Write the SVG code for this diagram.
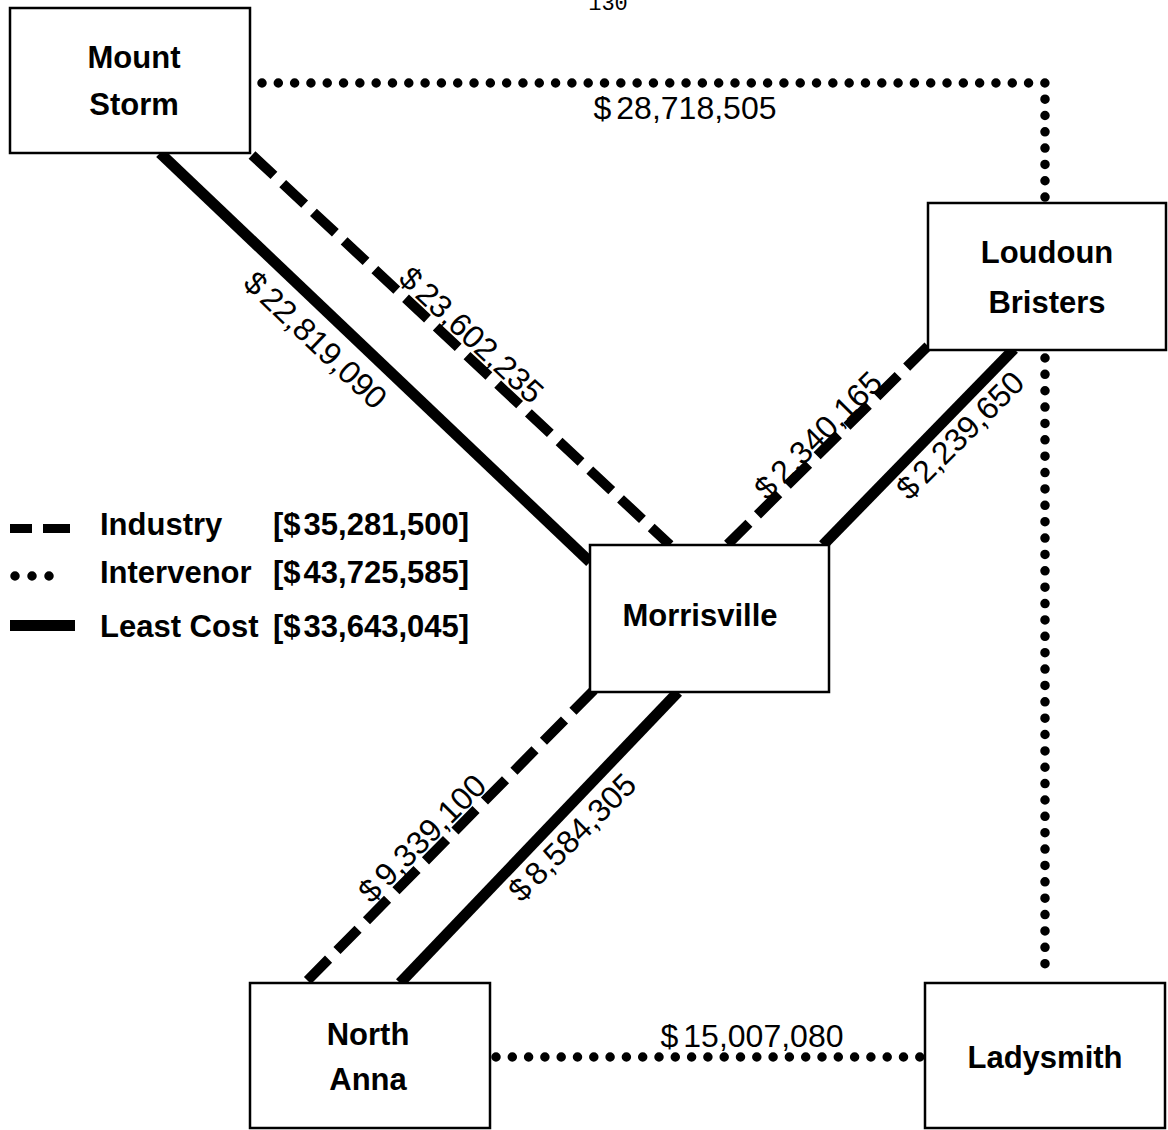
<svg xmlns="http://www.w3.org/2000/svg" width="1168" height="1130" viewBox="0 0 1168 1130">
<style>
.box{fill:#fff;stroke:#000;stroke-width:2.5}
.nl{font-family:"Liberation Sans",Arial,sans-serif;font-weight:bold;font-size:31px;fill:#000;text-anchor:middle}
.el{font-family:"Liberation Sans",Arial,sans-serif;font-size:32px;fill:#000;text-anchor:middle}
.lg{font-family:"Liberation Sans",Arial,sans-serif;font-weight:bold;font-size:31px;fill:#000}
.solid{stroke:#000;stroke-width:11;fill:none}
.dash{stroke:#000;stroke-width:10;fill:none;stroke-dasharray:30 12}
.dot{stroke:#000;stroke-width:9.5;fill:none;stroke-linecap:round}
</style>
<rect width="1168" height="1130" fill="#fff"/>
<text x="608" y="10" font-family="Liberation Mono, monospace" font-size="22" text-anchor="middle" fill="#000">130</text>
<g id="connectors">
<path class="solid" d="M160,153 L590,562"/>
<path class="dash" d="M252,155 L670,545"/>
<path class="dash" d="M928,346 L727,545"/>
<path class="solid" d="M1014,349 L823,545"/>
<path class="dash" d="M594,690 L305,983"/>
<path class="solid" d="M678,692 L400,983"/>
<path class="dot" d="M262,83 H1045 V200" stroke-dasharray="0 16.31"/>
<path class="dot" d="M1045,358 V980" stroke-dasharray="0 16.37"/>
<path class="dot" d="M496,1057 H920" stroke-dasharray="0 16.3"/>
</g>
<g id="edge-labels">
<text class="el" x="685" y="119">$<tspan dx="5">28,718,505</tspan></text>
<text class="el" x="752" y="1047">$<tspan dx="5">15,007,080</tspan></text>
<text class="el" transform="translate(308,348) rotate(43.6)">$<tspan dx="5">22,819,090</tspan></text>
<text class="el" transform="translate(464,343) rotate(43)">$<tspan dx="5">23,602,235</tspan></text>
<text class="el" transform="translate(826,443) rotate(-45)">$<tspan dx="5">2,340,165</tspan></text>
<text class="el" transform="translate(968,443) rotate(-45)">$<tspan dx="5">2,239,650</tspan></text>
<text class="el" transform="translate(430,846) rotate(-45)">$<tspan dx="5">9,339,100</tspan></text>
<text class="el" transform="translate(580,845) rotate(-45)">$<tspan dx="5">8,584,305</tspan></text>
</g>
<g id="mount-storm">
<rect class="box" x="10" y="8" width="240" height="145"/>
<text class="nl" x="134" y="68">Mount</text>
<text class="nl" x="134" y="115">Storm</text>
</g>
<g id="loudoun-bristers">
<rect class="box" x="928" y="203" width="238" height="147"/>
<text class="nl" x="1047" y="263">Loudoun</text>
<text class="nl" x="1047" y="313">Bristers</text>
</g>
<g id="morrisville">
<rect class="box" x="590" y="545" width="239" height="147"/>
<text class="nl" x="700" y="626">Morrisville</text>
</g>
<g id="north-anna">
<rect class="box" x="250" y="983" width="240" height="145"/>
<text class="nl" x="368" y="1045">North</text>
<text class="nl" x="368" y="1090">Anna</text>
</g>
<g id="ladysmith">
<rect class="box" x="925" y="983" width="240" height="145"/>
<text class="nl" x="1045" y="1068">Ladysmith</text>
</g>
<g id="legend">
<rect x="10" y="524" width="22" height="9" fill="#000"/>
<rect x="43" y="524" width="27" height="9" fill="#000"/>
<path class="dot" d="M15,576 H66" stroke-dasharray="0 17"/>
<rect x="10" y="620" width="65" height="11" fill="#000"/>
<text class="lg" x="100" y="535">Industry<tspan x="273">[$<tspan dx="3">35,281,500]</tspan></tspan></text>
<text class="lg" x="100" y="583">Intervenor<tspan x="273">[$<tspan dx="3">43,725,585]</tspan></tspan></text>
<text class="lg" x="100" y="637">Least Cost<tspan x="273">[$<tspan dx="3">33,643,045]</tspan></tspan></text>
</g>
</svg>
